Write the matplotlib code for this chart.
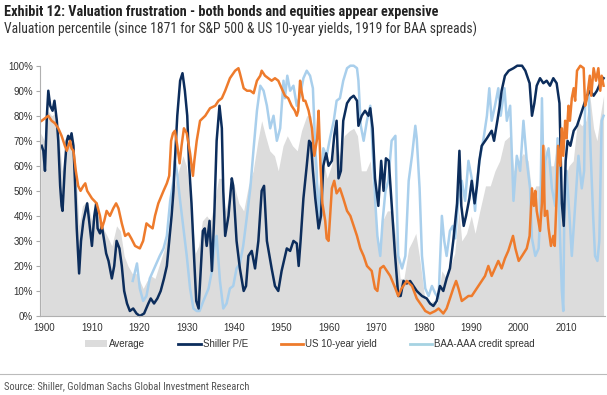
import matplotlib
matplotlib.use("Agg")
import matplotlib.pyplot as plt
from matplotlib.patches import Patch
from matplotlib.lines import Line2D

# values (year, percentile)
shiller_pe = [
    (1899.4, 68), (1899.75, 66), (1900.1, 58), (1900.5, 80), (1900.8, 90), (1901.2, 84), (1901.7, 82),
    (1902.1, 86), (1902.6, 78), (1902.9, 70), (1903.3, 52), (1903.6, 44), (1903.8, 42), (1904.3, 60),
    (1904.7, 70), (1905.0, 72), (1905.4, 70), (1905.7, 73), (1906.1, 68), (1906.4, 55), (1906.8, 35),
    (1907.3, 17), (1907.7, 30), (1908.2, 38), (1909.0, 45), (1909.6, 35), (1910.0, 28), (1910.5, 40),
    (1910.9, 45), (1911.2, 35), (1911.7, 33), (1912.1, 36), (1912.6, 30), (1913.0, 25), (1913.5, 22),
    (1914.2, 15), (1914.7, 20), (1915.2, 30), (1915.8, 27), (1916.3, 20), (1916.8, 10), (1917.4, 5),
    (1918.0, 2), (1918.7, 3), (1919.4, 1), (1920.1, 0), (1921.0, 1), (1921.9, 5), (1922.4, 7),
    (1923.1, 5), (1923.8, 7), (1924.5, 10), (1925.2, 15), (1925.8, 20), (1926.3, 30), (1926.8, 40),
    (1927.2, 50), (1927.5, 62), (1928.0, 80), (1928.6, 94), (1929.1, 97), (1929.6, 90), (1930.1, 80),
    (1930.5, 60), (1931.0, 45), (1931.5, 25), (1932.0, 6), (1932.5, 3), (1933.0, 20), (1933.4, 34),
    (1933.8, 35), (1934.2, 28), (1934.8, 38), (1935.3, 18), (1935.8, 40), (1936.3, 70), (1936.9, 84),
    (1937.4, 75), (1937.7, 50), (1938.1, 32), (1938.8, 40), (1939.5, 55), (1939.8, 52), (1940.5, 30),
    (1941.2, 19), (1942.0, 10), (1942.5, 12), (1943.0, 24), (1943.7, 26), (1944.4, 19), (1945.1, 30),
    (1945.8, 50), (1946.3, 52), (1946.9, 30), (1947.9, 19), (1948.6, 12), (1949.3, 10), (1950.0, 18),
    (1951.1, 27), (1951.8, 26), (1952.5, 30), (1953.2, 29), (1953.6, 20), (1954.0, 30), (1954.6, 47),
    (1955.3, 60), (1955.8, 70), (1956.2, 69), (1956.6, 58), (1957.1, 47), (1957.8, 35), (1958.3, 40),
    (1958.8, 60), (1959.4, 65), (1959.9, 60), (1960.6, 62), (1961.1, 72), (1961.6, 78), (1962.0, 55),
    (1962.5, 58), (1963.0, 78), (1963.8, 85), (1964.5, 87), (1965.2, 88), (1965.9, 86), (1966.2, 76),
    (1966.9, 80), (1967.6, 82), (1968.3, 80), (1968.7, 83), (1969.2, 75), (1969.7, 55), (1970.4, 44),
    (1971.0, 62), (1971.5, 50), (1972.0, 63), (1972.6, 62), (1973.2, 45), (1973.9, 25), (1974.6, 8),
    (1975.1, 8), (1975.7, 14), (1976.4, 13), (1977.1, 14), (1977.8, 12), (1978.5, 10), (1979.6, 8),
    (1980.6, 7), (1981.3, 5), (1982.0, 4), (1982.7, 6), (1983.4, 12), (1984.1, 10), (1984.8, 15),
    (1985.5, 19), (1986.2, 30), (1987.0, 45), (1987.5, 66), (1987.9, 44), (1988.4, 36), (1988.9, 40),
    (1989.6, 47), (1990.1, 54), (1990.7, 45), (1991.2, 52), (1991.7, 62), (1992.2, 68), (1993.3, 71),
    (1994.3, 74), (1994.8, 70), (1995.5, 78), (1996.0, 84), (1996.4, 90), (1997.1, 96), (1997.9, 98),
    (1998.9, 99), (1999.7, 100), (2000.7, 100), (2001.4, 98), (2002.3, 93), (2002.8, 80), (2003.3, 85),
    (2003.8, 92), (2004.5, 95), (2005.2, 93), (2005.9, 94), (2006.6, 92), (2007.3, 95), (2008.0, 93),
    (2008.6, 85), (2009.1, 45), (2009.5, 36), (2009.9, 62), (2010.3, 70), (2010.9, 68), (2011.6, 74),
    (2012.3, 76), (2013.0, 80), (2013.7, 84), (2014.4, 88), (2015.1, 90), (2015.8, 88), (2016.5, 90),
    (2017.2, 93), (2017.9, 95),
]

us10y = [
    (1899.4, 78), (1900.1, 79), (1900.8, 80), (1901.5, 78), (1902.2, 77), (1902.9, 75), (1903.6, 72),
    (1904.3, 68), (1904.7, 66), (1905.4, 70), (1905.7, 67), (1906.1, 66), (1906.6, 58), (1907.1, 52),
    (1907.6, 50), (1908.2, 52), (1908.6, 53), (1909.0, 50), (1910.0, 47), (1911.0, 45), (1911.7, 40),
    (1912.1, 35), (1912.6, 38), (1913.1, 42), (1913.8, 40), (1914.5, 43), (1915.1, 45), (1915.6, 43),
    (1916.3, 37), (1917.0, 32), (1917.7, 33), (1918.3, 31), (1919.1, 28), (1920.1, 27), (1920.8, 30),
    (1921.5, 37), (1922.1, 36), (1922.8, 35), (1923.3, 40), (1924.0, 45), (1925.1, 50), (1925.8, 53),
    (1926.3, 56), (1926.7, 70), (1927.1, 73), (1927.5, 74), (1928.0, 68), (1928.5, 61), (1928.9, 68),
    (1929.4, 75), (1930.0, 73), (1930.7, 65), (1931.3, 56), (1931.6, 62), (1932.1, 70), (1932.8, 78),
    (1933.9, 80), (1934.9, 83), (1936.0, 84), (1936.7, 86), (1937.4, 87), (1938.1, 90), (1939.1, 95),
    (1940.2, 98), (1940.9, 99), (1941.2, 97), (1942.0, 91), (1942.7, 90), (1943.4, 90), (1944.1, 89),
    (1944.8, 94), (1945.5, 96), (1945.8, 98), (1946.5, 96), (1947.2, 95), (1947.9, 94), (1948.6, 95),
    (1949.3, 94), (1950.0, 91), (1950.7, 88), (1951.4, 87), (1952.1, 84), (1952.8, 82), (1953.2, 80),
    (1953.5, 82), (1953.9, 94), (1954.2, 90), (1954.6, 86), (1955.0, 86), (1955.7, 82), (1956.4, 75),
    (1956.9, 64), (1957.5, 71), (1957.8, 82), (1958.2, 60), (1958.6, 45), (1959.2, 38), (1959.5, 31),
    (1959.9, 30), (1960.6, 51), (1961.1, 54), (1961.6, 49), (1962.3, 51), (1963.0, 47), (1963.8, 42),
    (1964.5, 40), (1965.2, 36), (1965.9, 32), (1966.6, 27), (1967.3, 24), (1968.0, 20), (1969.0, 18),
    (1969.7, 11), (1970.2, 10), (1970.8, 19), (1971.5, 20), (1972.2, 18), (1972.9, 16), (1974.0, 11),
    (1974.6, 8), (1975.3, 11), (1976.4, 14), (1977.5, 12), (1978.5, 7), (1979.6, 4), (1980.3, 2),
    (1981.3, 1), (1982.4, 2), (1983.1, 3), (1984.1, 1), (1984.8, 3), (1985.5, 7), (1986.2, 11),
    (1986.8, 14), (1987.3, 11), (1988.0, 6), (1988.7, 7), (1989.4, 8), (1990.1, 8), (1990.8, 10),
    (1991.5, 12), (1992.2, 14), (1992.9, 16), (1993.6, 20), (1994.3, 16), (1995.0, 19), (1995.7, 22),
    (1996.4, 19), (1997.1, 23), (1997.8, 26), (1998.8, 32), (1999.3, 27), (2000.0, 22), (2000.7, 24),
    (2001.7, 27), (2002.3, 32), (2002.8, 51), (2003.2, 44), (2003.5, 50), (2003.8, 42), (2004.5, 34),
    (2004.9, 45), (2005.2, 68), (2005.5, 40), (2006.0, 42), (2006.3, 35), (2006.8, 28), (2007.3, 32),
    (2007.6, 28), (2008.0, 48), (2008.3, 68), (2008.8, 60), (2009.1, 75), (2009.4, 64), (2009.8, 78),
    (2010.1, 71), (2010.5, 84), (2010.8, 78), (2011.2, 87), (2011.6, 91), (2011.9, 86), (2012.3, 98),
    (2013.0, 100), (2013.7, 99), (2014.0, 84), (2014.4, 87), (2015.0, 96), (2015.3, 88), (2015.8, 99),
    (2016.3, 94), (2016.8, 99), (2017.2, 90), (2017.5, 96), (2017.9, 92),
]

baa_aaa = [
    (1918.6, 14), (1919.0, 17), (1919.5, 21), (1920.1, 11), (1920.8, 6), (1921.5, 8), (1922.2, 15),
    (1922.9, 18), (1923.6, 21), (1924.3, 24), (1925.1, 27), (1925.8, 32), (1926.5, 46), (1927.2, 54),
    (1927.5, 62), (1927.9, 58), (1928.6, 46), (1929.3, 35), (1930.0, 24), (1930.7, 11), (1931.4, 3),
    (1932.1, 2), (1932.7, 2), (1933.5, 6), (1934.6, 11), (1935.3, 18), (1936.0, 30), (1936.3, 32),
    (1937.0, 14), (1937.7, 3), (1938.4, 5), (1939.1, 11), (1939.8, 12), (1940.5, 19), (1941.2, 21),
    (1941.9, 28), (1942.7, 40), (1943.4, 51), (1944.1, 67), (1944.8, 82), (1945.5, 92), (1946.2, 90),
    (1946.9, 84), (1947.6, 75), (1948.3, 80), (1949.0, 70), (1949.7, 75), (1950.4, 94), (1950.7, 87),
    (1951.2, 96), (1951.8, 90), (1952.5, 92), (1953.2, 84), (1953.9, 88), (1954.6, 95), (1955.3, 98),
    (1956.0, 96), (1956.6, 91), (1957.1, 67), (1957.4, 58), (1957.8, 35), (1958.1, 47), (1958.8, 67),
    (1959.5, 64), (1960.2, 71), (1961.0, 78), (1961.6, 86), (1962.3, 87), (1963.0, 94), (1963.8, 99),
    (1964.5, 100), (1965.2, 100), (1965.9, 99), (1966.2, 94), (1966.7, 76), (1967.3, 70), (1968.0, 78),
    (1968.7, 84), (1969.0, 74), (1969.7, 47), (1970.2, 32), (1970.8, 24), (1971.3, 38), (1971.9, 50),
    (1972.5, 54), (1973.2, 70), (1974.0, 72), (1974.3, 44), (1974.6, 24), (1975.4, 19), (1976.1, 24),
    (1976.8, 54), (1977.5, 64), (1978.2, 76), (1978.5, 71), (1979.1, 51), (1979.6, 24), (1980.3, 11),
    (1981.0, 8), (1981.7, 12), (1982.4, 9), (1983.1, 7), (1983.8, 40), (1984.3, 30), (1984.8, 24),
    (1985.5, 34), (1986.1, 36), (1986.6, 31), (1987.3, 47), (1988.0, 54), (1988.7, 46), (1989.4, 62),
    (1990.1, 55), (1990.8, 42), (1991.2, 54), (1991.9, 64), (1992.6, 71), (1993.3, 80), (1993.8, 91),
    (1994.3, 78), (1995.0, 84), (1995.7, 91), (1996.2, 80), (1997.0, 91), (1997.5, 78), (1998.2, 84),
    (1998.9, 46), (1999.6, 64), (2000.3, 58), (2001.0, 78), (2001.7, 62), (2002.4, 51), (2002.8, 31),
    (2003.5, 24), (2004.2, 27), (2004.6, 44), (2004.9, 87), (2005.3, 50), (2005.6, 62), (2006.3, 67),
    (2007.0, 51), (2007.7, 44), (2008.2, 71), (2008.6, 38), (2009.1, 10), (2009.4, 2), (2009.6, 38),
    (2010.1, 58), (2010.7, 40), (2011.2, 24), (2011.9, 44), (2012.6, 64), (2013.3, 51), (2013.8, 58),
    (2014.0, 84), (2014.7, 91), (2015.2, 64), (2015.7, 40), (2016.1, 24), (2016.6, 22), (2017.0, 30),
    (2017.5, 78), (2017.9, 80),
]

average = [
    (1899.2, 73), (1900.0, 70), (1900.7, 82), (1901.5, 80), (1902.3, 81), (1903.0, 73), (1903.7, 58),
    (1904.5, 64), (1905.3, 70), (1906.0, 68), (1906.7, 55), (1907.3, 36), (1908.0, 44), (1909.0, 46),
    (1910.0, 38), (1910.8, 44), (1911.6, 38), (1912.4, 35), (1913.2, 32), (1914.2, 28), (1915.2, 36),
    (1916.0, 34), (1916.8, 24), (1917.6, 20), (1918.5, 17), (1919.3, 17), (1920.1, 14), (1920.8, 11),
    (1921.6, 14), (1922.5, 16), (1923.3, 15), (1924.3, 21), (1925.3, 27), (1926.2, 35), (1927.0, 48),
    (1927.8, 55), (1928.6, 60), (1929.2, 64), (1929.9, 60), (1930.6, 50), (1931.2, 38), (1931.8, 25),
    (1932.5, 28), (1933.3, 38), (1934.2, 40), (1935.0, 38), (1935.8, 45), (1936.7, 55), (1937.5, 55),
    (1938.1, 42), (1939.0, 48), (1940.0, 52), (1941.0, 45), (1942.0, 42), (1943.0, 52), (1944.0, 58),
    (1945.0, 70), (1945.8, 78), (1946.6, 72), (1947.5, 66), (1948.5, 64), (1949.3, 58), (1950.3, 68),
    (1951.2, 72), (1952.3, 68), (1953.3, 66), (1954.2, 74), (1955.3, 80), (1956.2, 80), (1957.0, 62),
    (1957.8, 50), (1958.8, 62), (1959.6, 55), (1960.5, 60), (1961.5, 72), (1962.2, 64), (1963.2, 72),
    (1964.3, 74), (1965.2, 75), (1966.0, 72), (1966.8, 58), (1967.8, 58), (1968.7, 62), (1969.5, 45),
    (1970.5, 26), (1971.3, 38), (1972.3, 42), (1973.3, 42), (1974.2, 30), (1975.0, 15), (1975.8, 15),
    (1976.8, 27), (1977.6, 30), (1978.3, 33), (1979.2, 22), (1980.2, 7), (1981.0, 5), (1982.0, 6),
    (1982.8, 5), (1983.8, 18), (1984.8, 15), (1985.6, 20), (1986.5, 25), (1987.4, 42), (1988.0, 30),
    (1989.0, 33), (1990.0, 40), (1990.8, 33), (1991.8, 42), (1993.0, 52), (1994.0, 52), (1995.0, 58),
    (1996.0, 62), (1997.0, 70), (1998.2, 72), (1999.0, 58), (2000.0, 62), (2001.0, 65), (2002.0, 62),
    (2002.8, 48), (2003.6, 52), (2004.6, 52), (2005.5, 68), (2006.5, 60), (2007.3, 60), (2008.2, 70),
    (2008.8, 55), (2009.2, 40), (2009.8, 55), (2010.6, 60), (2011.5, 62), (2012.4, 78), (2013.3, 76),
    (2014.2, 78), (2015.0, 88), (2015.8, 75), (2016.5, 70), (2017.2, 80), (2017.9, 88),
]

y_ticks = list(range(0, 101, 10))
x_ticks = list(range(1900, 2011, 10))

NAVY = '#0c2d5c'
ORANGE = '#ee7b2c'
LIGHT = '#a9cfec'
GREY = '#dcdcdc'
NARROW = ['Roboto Condensed', 'Archivo Narrow', 'Liberation Sans Narrow', 'DejaVu Sans']
SANS = ['Liberation Sans', 'DejaVu Sans']

fig = plt.figure(figsize=(6.07, 3.95), dpi=100)
ax = fig.add_axes([40 / 607, 1 - 316 / 395, 565 / 607, 250.3 / 395])

ax.fill_between([p[0] for p in average], [p[1] for p in average], 0, color=GREY, lw=0)
ax.plot([p[0] for p in baa_aaa], [p[1] for p in baa_aaa], color=LIGHT, lw=1.8, clip_on=False)
ax.plot([p[0] for p in shiller_pe], [p[1] for p in shiller_pe], color=NAVY, lw=1.8, clip_on=False)
ax.plot([p[0] for p in us10y], [p[1] for p in us10y], color=ORANGE, lw=1.8, clip_on=False)

ax.set_xlim(1899.05, 2018.2)
ax.set_ylim(0, 100)
ax.set_yticks(y_ticks)
ax.set_yticklabels([f'{v}%' for v in y_ticks], family=SANS, fontsize=7, color='#333333')
ax.set_xticks(x_ticks)
ax.set_xticklabels([str(v) for v in x_ticks], family=SANS, fontsize=7, color='#333333')
ax.tick_params(axis='x', length=0, pad=5)
ax.tick_params(axis='y', length=3, color='#aaaaaa', pad=2)
for s in ['top', 'right']:
    ax.spines[s].set_visible(False)
for s in ['left', 'bottom']:
    ax.spines[s].set_color('#b0b0b0')
    ax.spines[s].set_linewidth(0.8)

handles = [
    Patch(facecolor=GREY, edgecolor='none'),
    Line2D([], [], color=NAVY, lw=2),
    Line2D([], [], color=ORANGE, lw=2),
    Line2D([], [], color='#a6d3e2', lw=2),
]
labels = ['Average', 'Shiller P/E', 'US 10-year yield', 'BAA-AAA credit spread']
fig.legend(handles, labels, loc='center', bbox_to_anchor=(310 / 607, 1 - 344 / 395), ncol=4,
           frameon=False, prop={'family': SANS, 'size': 7}, handlelength=2.3, handleheight=0.6,
           handletextpad=0.2, columnspacing=3.4, labelcolor='#333333')

fig.text(4 / 607, 1 - 12 / 395,
         'Exhibit 12: Valuation frustration - both bonds and equities appear expensive',
         family=NARROW, fontsize=10.3, fontweight='bold', color='#222222', va='center')
fig.text(4 / 607, 1 - 29 / 395,
         'Valuation percentile (since 1871 for S&P 500 & US 10-year yields, 1919 for BAA spreads)',
         family=NARROW, fontsize=9.8, color='#333333', va='center')
fig.add_artist(Line2D([0, 1], [1 - 374 / 395] * 2, transform=fig.transFigure, color='#bbbbbb', lw=0.8))
fig.text(4 / 607, 1 - 386 / 395, 'Source: Shiller, Goldman Sachs Global Investment Research',
         family=NARROW, fontsize=7.6, color='#555555', va='center')

fig.savefig('out.png', dpi=100)
